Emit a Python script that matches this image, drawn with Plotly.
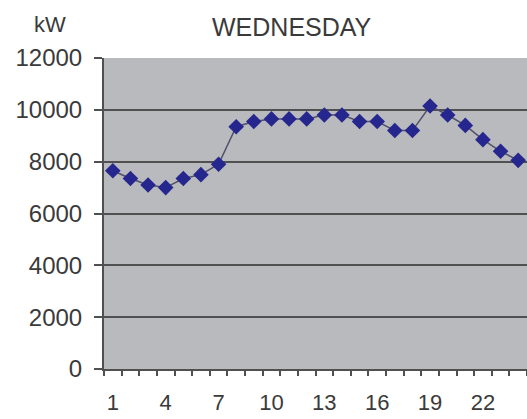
import plotly.graph_objects as go

# Hourly load profile for Wednesday
hours = list(range(1, 25))
load_kw = [7650, 7350, 7100, 7000, 7350, 7500, 7900, 9350, 9550, 9650, 9650, 9650,
           9800, 9800, 9550, 9550, 9200, 9200, 10150, 9800, 9400, 8850, 8400, 8050]
x_tick_hours = [1, 4, 7, 10, 13, 16, 19, 22]
y_ticks = [0, 2000, 4000, 6000, 8000, 10000, 12000]

FONT = "Liberation Sans, Arial, sans-serif"
TEXT = "#3a3a3a"
GRID = "#505050"

fig = go.Figure()
fig.add_trace(go.Scatter(
    x=hours, y=load_kw, mode="lines+markers",
    line=dict(color="#50506a", width=1.5),
    marker=dict(symbol="diamond", size=12, color="#26268f",
                line=dict(width=0)),
    showlegend=False,
))

fig.update_layout(
    width=527, height=419,
    margin=dict(l=104, r=0, t=58, b=50),
    paper_bgcolor="white",
    plot_bgcolor="#b9babe",
    font=dict(family=FONT, size=24, color=TEXT),
    xaxis=dict(
        range=[0.5, 24.5], automargin=False,
        tickvals=x_tick_hours, ticktext=[str(h) for h in x_tick_hours],
        tickfont=dict(size=22),
        ticks="", showgrid=False, zeroline=False,
        showline=True, linecolor=GRID, linewidth=2,
        ticklabelstandoff=13,
        minor=dict(ticks="outside", tick0=0.5, dtick=1, ticklen=5,
                   tickcolor=GRID, tickwidth=2, showgrid=False),
    ),
    yaxis=dict(
        range=[0, 12000], tickvals=y_ticks, automargin=False,
        ticktext=[str(v) for v in y_ticks],
        ticks="outside", ticklen=8, tickcolor=GRID, tickwidth=2,
        showgrid=True, gridcolor=GRID, gridwidth=2,
        zeroline=False, showline=True, linecolor=GRID, linewidth=2,
        ticklabelstandoff=7,
    ),
    annotations=[
        dict(text="WEDNESDAY", xref="paper", yref="paper",
             x=0.4445, y=1.0997, xanchor="center", yanchor="middle",
             showarrow=False, font=dict(size=25, color=TEXT)),
        dict(text="kW", xref="paper", yref="paper",
             x=-0.1277, y=1.107, xanchor="center", yanchor="middle",
             showarrow=False, font=dict(size=22, color=TEXT)),
    ],
)

fig.write_html("out.html")
